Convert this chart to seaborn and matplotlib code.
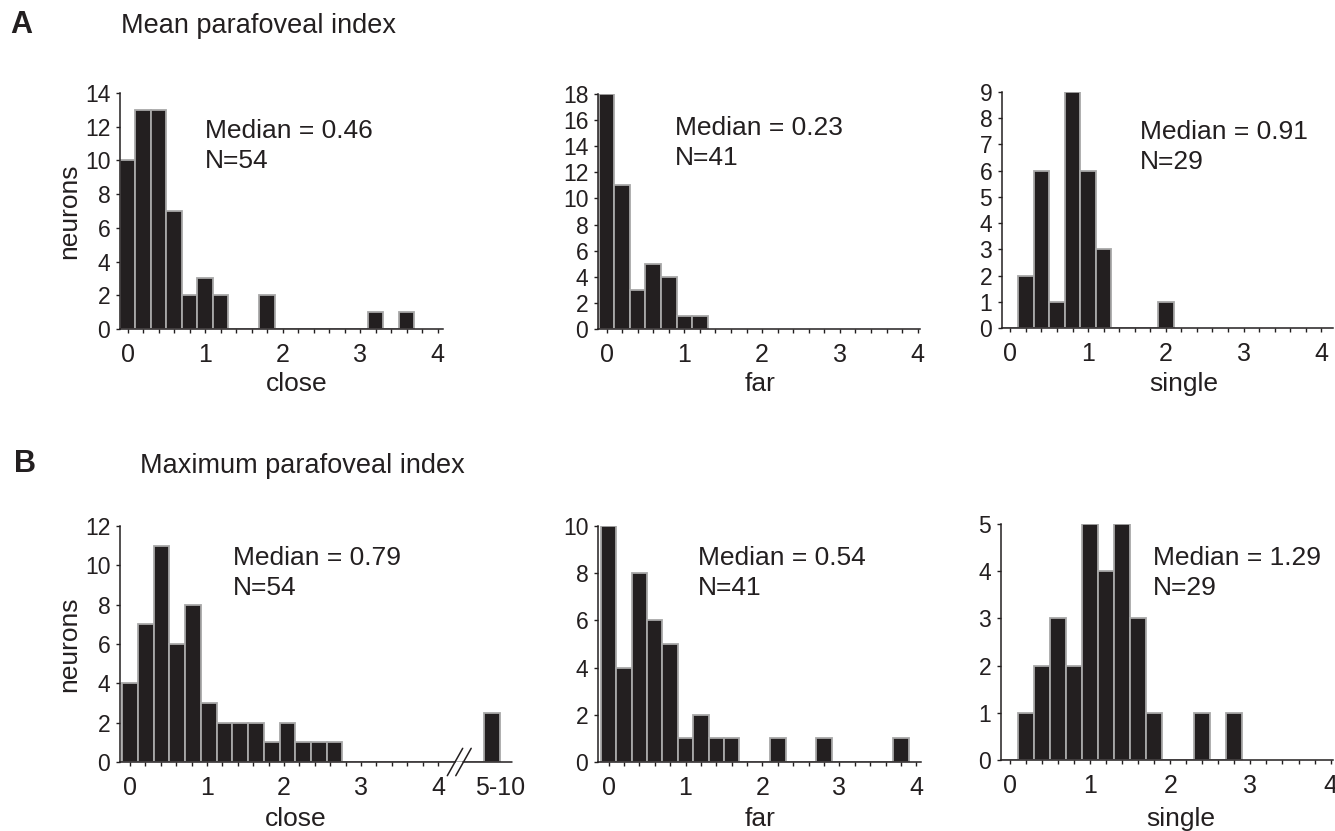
import numpy as np
import pandas as pd
import matplotlib.pyplot as plt
import seaborn as sns

# bin centres (parafoveal index, bins of 0.2) and neuron counts
mean_close_x = [0.0, 0.2, 0.4, 0.6, 0.8, 1.0, 1.2, 1.8, 3.2, 3.6]
mean_close_n = [10, 13, 13, 7, 2, 3, 2, 2, 1, 1]
mean_far_x = [0.0, 0.2, 0.4, 0.6, 0.8, 1.0, 1.2]
mean_far_n = [18, 11, 3, 5, 4, 1, 1]
mean_single_x = [0.2, 0.4, 0.6, 0.8, 1.0, 1.2, 2.0]
mean_single_n = [2, 6, 1, 9, 6, 3, 1]

# 4.7 is the "5-10" bin drawn after the axis break
max_close_x = [0.0, 0.2, 0.4, 0.6, 0.8, 1.0, 1.2, 1.4, 1.6, 1.8, 2.0, 2.2, 2.4, 2.6, 4.7]
max_close_n = [4, 7, 11, 6, 8, 3, 2, 2, 2, 1, 2, 1, 1, 1, 2.5]
max_far_x = [0.0, 0.2, 0.4, 0.6, 0.8, 1.0, 1.2, 1.4, 1.6, 2.2, 2.8, 3.8]
max_far_n = [10, 4, 8, 6, 5, 1, 2, 1, 1, 1, 1, 1]
max_single_x = [0.2, 0.4, 0.6, 0.8, 1.0, 1.2, 1.4, 1.6, 1.8, 2.4, 2.8]
max_single_n = [1, 2, 3, 2, 5, 4, 5, 3, 1, 1, 1]

conditions = ["close", "far", "single"]
medians = ["0.46", "0.23", "0.91", "0.79", "0.54", "1.29"]
n_cells = [54, 41, 29, 54, 41, 29]
y_max = [14, 18, 9, 12, 10, 5]
y_step = [2, 2, 1, 2, 2, 1]

sns.set_theme(style="ticks")
plt.rcParams["font.family"] = ["Liberation Sans", "DejaVu Sans"]

W, H = 1335, 831
fig = plt.figure(figsize=(W / 100, H / 100), dpi=100)

def fx(px):
    return px / W

def fy(py):
    return 1 - py / H

# axes boxes in pixels: left, top, right, bottom ; x limits ; text position
boxes = [(120, 93, 443, 329), (598, 94, 920, 329), (1002, 92, 1333, 328),
         (120, 526, 512, 762), (598, 526, 921, 762), (1001, 524, 1333, 760)]
xlims = [(-0.10, 4.07), (-0.11, 4.03), (-0.107, 4.15),
         (-0.13, 4.96), (-0.137, 4.06), (-0.11, 4.03)]
text_pos = [(205, 119), (675, 116), (1140, 120), (233, 546), (698, 546), (1153, 546)]
xlabel_pos = [(297, 372), (760, 372), (1184, 372), (296, 807), (760, 807), (1181, 807)]

data = [(mean_close_x, mean_close_n), (mean_far_x, mean_far_n), (mean_single_x, mean_single_n),
        (max_close_x, max_close_n), (max_far_x, max_far_n), (max_single_x, max_single_n)]

fill = "#231f20"
edge = "#a8a8a8"

for i, (xs, ns) in enumerate(data):
    l, t, r, b = boxes[i]
    ax = fig.add_axes([fx(l), fy(b), (r - l) / W, (b - t) / H])
    df = pd.DataFrame({"index": xs, "neurons": ns})
    sns.histplot(data=df, x="index", weights="neurons", binwidth=0.2,
                 binrange=(-0.1, max(xs) + 0.1), ax=ax, color=fill,
                 edgecolor=edge, linewidth=1.3, alpha=1)
    ax.set_xlim(*xlims[i])
    ax.set_ylim(0, y_max[i])
    ax.set_yticks(np.arange(0, y_max[i] + 1, y_step[i]))
    ax.set_xticks(np.arange(0, 4.01, 0.2), minor=True)
    if i == 3:
        ax.set_xticks([0, 1, 2, 3, 4, 4.8])
        ax.set_xticklabels(["0", "1", "2", "3", "4", "5-10"])
        ax.get_xaxis().get_major_ticks()[-1].tick1line.set_visible(False)
    else:
        ax.set_xticks([0, 1, 2, 3, 4])
        ax.set_xticklabels(["0", "1", "2", "3", "4"])
    sns.despine(ax=ax)
    for s in ["left", "bottom"]:
        ax.spines[s].set_color(fill)
        ax.spines[s].set_linewidth(1.1)
    ax.tick_params(axis="y", length=3, width=1, pad=4, labelsize=16.5, colors=fill)
    ax.tick_params(axis="x", which="both", length=3, width=1, pad=7, labelsize=18, colors=fill)
    ax.set_ylabel("")
    ax.set_xlabel(conditions[i % 3], fontsize=19, color=fill)
    lx, ly = xlabel_pos[i]
    ax.xaxis.set_label_coords((lx - l) / (r - l), (b - ly) / (b - t))
    if i % 3 == 0:
        ax.set_ylabel("neurons", fontsize=19, color=fill)
        ax.yaxis.set_label_coords((81 - l) / (r - l), 0.5)

    tx, ty = text_pos[i]
    fig.text(fx(tx), fy(ty), f"Median = {medians[i]}\nN={n_cells[i]}", fontsize=19,
             color=fill, va="top", ha="left", linespacing=1.3)

    if i == 3:
        # axis break between 4 and the 5-10 bin
        ax.spines["bottom"].set_bounds(xlims[i][0], 4.22)
        tr = ax.get_xaxis_transform()
        ax.plot([4.33, xlims[i][1]], [0, 0], color=fill, lw=1.1, transform=tr, clip_on=False)
        for x0 in [4.22, 4.33]:
            ax.plot([x0 - 0.1, x0 + 0.1], [-0.058, 0.058], color=fill, lw=1.1,
                    transform=tr, clip_on=False)

fig.text(fx(10), fy(33), "A", fontsize=22, weight="bold", color=fill, va="baseline")
fig.text(fx(121), fy(33), "Mean parafoveal index", fontsize=19.5, color=fill, va="baseline")
fig.text(fx(14), fy(472), "B", fontsize=22, weight="bold", color=fill, va="baseline")
fig.text(fx(140), fy(473), "Maximum parafoveal index", fontsize=19.5, color=fill, va="baseline")

fig.savefig("out.png", dpi=100)
